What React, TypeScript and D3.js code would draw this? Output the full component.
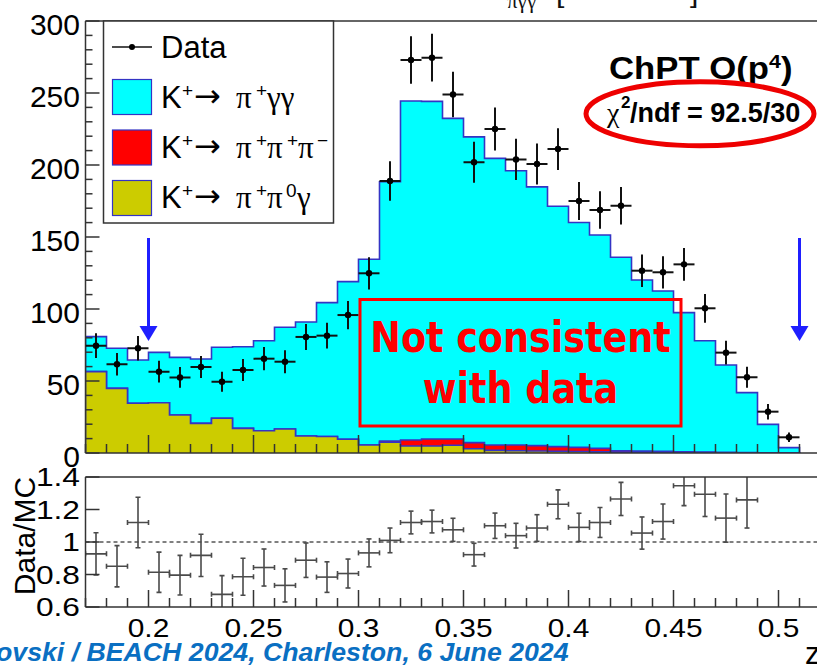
import React from 'react';
import * as d3 from 'd3';

// Bin lower edges in z (bin width 0.01)
const binLow = [0.17, 0.18, 0.19, 0.2, 0.21, 0.22, 0.23, 0.24, 0.25, 0.26, 0.27, 0.28, 0.29, 0.3, 0.31, 0.32, 0.33, 0.34, 0.35, 0.36, 0.37, 0.38, 0.39, 0.4, 0.41, 0.42, 0.43, 0.44, 0.45, 0.46, 0.47, 0.48, 0.49, 0.5];
const BIN_WIDTH = 0.01;

// MC components (events per bin)
const kPiGammaGamma = [24.3, 27.8, 30.1, 35.0, 40.0, 44.7, 49.3, 56.7, 62.5, 70.6, 79.2, 92.9, 109.4, 128.9, 180.1, 235.4, 234.5, 222.7, 212.3, 199.0, 190.4, 179.7, 167.0, 156.2, 148.2, 134.3, 118.8, 111.4, 96.7, 77.4, 60.7, 41.6, 19.8, 3.6];
const kPi3 = [0, 0, 0, 0, 0, 0, 0, 0, 0, 0, 0, 0, 0, 0, 0.8, 4.1, 4.8, 4.3, 4.2, 3.8, 4.0, 3.7, 3.2, 2.9, 2.4, 1.0, 0.8, 0.7, 0.5, 0.3, 0.2, 0.1, 0, 0];
const kPiPi0Gamma = [56.5, 44.9, 34.5, 34.9, 26.4, 20.6, 24.1, 17.1, 15.5, 16.7, 11.8, 11.5, 9.6, 5.6, 7.5, 4.9, 4.9, 5.4, 3.0, 1.8, 1.6, 1.4, 1.2, 1.0, 0.8, 0.6, 0.5, 0.4, 0.3, 0.3, 0.2, 0.2, 0.1, 0.1];

// Data
const dataCounts = [74.5, 61.6, 72.7, 56.5, 52.5, 59.7, 49.5, 57.6, 65.5, 63.4, 80.6, 81.5, 95.8, 124.8, 188.9, 272.9, 274.5, 249.0, 201.9, 225.0, 203.9, 200.7, 211.1, 175.0, 168.8, 171.7, 126.6, 125.5, 131.0, 100.5, 69.7, 52.6, 28.7, 10.9];
const dataErrors = [8.6, 7.8, 8.5, 7.5, 7.2, 7.7, 7.0, 7.6, 8.1, 8.0, 9.0, 9.0, 9.8, 11.2, 13.7, 16.5, 16.6, 15.8, 14.2, 15.0, 14.3, 14.2, 14.5, 13.2, 13.0, 13.1, 11.3, 11.2, 11.4, 10.0, 8.3, 7.3, 5.4, 3.3];

// Data/MC ratio (null = outside the displayed range)
const ratioValues = [0.927, 0.851, 1.12, 0.814, 0.796, 0.918, 0.678, 0.786, 0.843, 0.733, 0.888, 0.784, 0.806, 0.933, 1.01, 1.12, 1.126, 1.075, 0.922, 1.1, 1.039, 1.086, 1.232, 1.09, 1.12, 1.265, 1.055, 1.126, 1.346, 1.294, 1.147, 1.259, null, null];
const ratioErrors = [0.13, 0.127, 0.155, 0.124, 0.122, 0.13, 0.115, 0.114, 0.114, 0.102, 0.106, 0.094, 0.089, 0.086, 0.076, 0.07, 0.07, 0.071, 0.07, 0.078, 0.076, 0.082, 0.089, 0.087, 0.092, 0.102, 0.099, 0.108, 0.122, 0.137, 0.148, 0.173, null, null];

// Axis ticks
const xMajorTicks = [0.2, 0.25, 0.3, 0.35, 0.4, 0.45, 0.5];
const xTickLabels = ['0.2', '0.25', '0.3', '0.35', '0.4', '0.45', '0.5'];
const yTopTicks = [0, 50, 100, 150, 200, 250, 300];
const yTopLabels = ['0', '50', '100', '150', '200', '250', '300'];
const yRatioTicks = [0.6, 0.8, 1, 1.2, 1.4];
const yRatioLabels = ['0.6', '0.8', '1', '1.2', '1.4'];

// Selection cut positions in z
const cutPositions = [0.2, 0.51];

const SANS = "'Liberation Sans', Arial, Helvetica, sans-serif";
const SERIF = "'Liberation Serif', 'Times New Roman', serif";
const DEJAVU = "'DejaVu Sans', Verdana, sans-serif";

const AXIS = '#333';
const HIST_LINE = '#3434c4';
const CYAN = '#00ffff';
const RED = '#ff0000';
const OLIVE = '#cccc00';
const ARROW_BLUE = '#1f1fff';

export default function App() {
  const W = 817;
  const H = 671;
  const left = 85.5;
  const topY0 = 453;
  const topY1 = 21;
  const ratY0 = 607;
  const ratY1 = 477;

  const x = d3.scaleLinear().domain([0.17, 0.53]).range([left, left + 756]);
  const yTop = d3.scaleLinear().domain([0, 300]).range([topY0, topY1]);
  const yRatio = d3.scaleLinear().domain([0.6, 1.4]).range([ratY0, ratY1]);

  const table = binLow.map((lo, i) => ({ lo, pi0g: kPiPi0Gamma[i], pi3: kPi3[i], gg: kPiGammaGamma[i] }));
  const stacked = d3.stack<any>().keys(['pi0g', 'pi3', 'gg'])(table);
  const cumTops = (k: number) => stacked[k].map((d) => d[1]);

  const histPath = (tops: number[], close: boolean) => {
    const pts: [number, number][] = [[x(binLow[0]), yTop(0)]];
    tops.forEach((v, i) => {
      pts.push([x(binLow[i]), yTop(v)], [x(binLow[i] + BIN_WIDTH), yTop(v)]);
    });
    pts.push([x(binLow[binLow.length - 1] + BIN_WIDTH), yTop(0)]);
    const p = d3.line()(pts) || '';
    return close ? p + 'Z' : p;
  };

  // Drawn back to front: total, then partial sums
  const layers = [
    { tops: cumTops(2), fill: CYAN },
    { tops: cumTops(1), fill: RED },
    { tops: cumTops(0), fill: OLIVE },
  ];

  const minorX = d3.range(17, 54).map((v) => v / 100);
  const minorYTop = d3.range(0, 301, 10);

  const supDy = -11;

  return (
    <div style={{ position: 'fixed', left: 0, top: 0, width: W, height: H, background: '#fff' }}>
      <svg width={W} height={H} style={{ display: 'block' }} fontFamily={SANS}>
        <defs>
          <clipPath id="topClip">
            <rect x={left} y={topY1} width={W - left} height={topY0 - topY1} />
          </clipPath>
          <clipPath id="ratioClip">
            <rect x={left} y={ratY1} width={W - left} height={ratY0 - ratY1} />
          </clipPath>
        </defs>

        {/* title row of the panel above, cut by the page edge */}
        <g fill="#111">
          <text x={482} y={-2} fontSize={30}>m</text>
          <text x={507} y={8} fontSize={21} fontFamily={SERIF}>πγγ</text>
          <text x={556} y={1.5} fontSize={30}>[</text>
          <text x={627} y={-1} fontSize={30} textAnchor="middle">MeV/c²</text>
          <text x={690} y={1.5} fontSize={30}>]</text>
        </g>

        {/* stacked MC histograms */}
        <g clipPath="url(#topClip)">
          {layers.map((l, i) => (
            <g key={i}>
              <path d={histPath(l.tops, true)} fill={l.fill} stroke="none" />
              <path d={histPath(l.tops, false)} fill="none" stroke={HIST_LINE} strokeWidth={1.6} />
            </g>
          ))}
        </g>

        {/* top panel frame and axes */}
        <g stroke={AXIS} strokeWidth={1.5} fill="none">
          <line x1={left} x2={W} y1={topY1} y2={topY1} />
          <line x1={left} x2={W} y1={topY0} y2={topY0} />
          <line x1={left} x2={left} y1={topY1} y2={topY0} />
          {minorX.map((v) => {
            const major = xMajorTicks.some((t) => Math.abs(t - v) < 1e-6);
            return <line key={v} x1={x(v)} x2={x(v)} y1={topY0} y2={topY0 - (major ? 18 : 9)} />;
          })}
          {minorYTop.map((v) => (
            <line key={v} x1={left} x2={left + (v % 50 === 0 ? 14 : 7)} y1={yTop(v)} y2={yTop(v)} />
          ))}
        </g>
        <g fontSize={30} fill="#000" textAnchor="end">
          {yTopTicks.map((v, i) => (
            <text key={v} x={80} y={yTop(v) + 13.5}>{yTopLabels[i]}</text>
          ))}
        </g>

        {/* data points */}
        <g stroke="#111" strokeWidth={2} clipPath="url(#topClip)">
          {dataCounts.map((v, i) => {
            const cx = x(binLow[i] + BIN_WIDTH / 2);
            const e = dataErrors[i];
            return (
              <g key={i}>
                <line x1={cx} x2={cx} y1={yTop(v - e)} y2={yTop(v + e)} />
                <line x1={x(binLow[i])} x2={x(binLow[i] + BIN_WIDTH)} y1={yTop(v)} y2={yTop(v)} />
                <circle cx={cx} cy={yTop(v)} r={3.2} fill="#000" stroke="none" />
              </g>
            );
          })}
        </g>

        {/* selection cut arrows */}
        <g fill={ARROW_BLUE} stroke={ARROW_BLUE}>
          {cutPositions.map((c) => {
            const ax = x(c);
            return (
              <g key={c}>
                <line x1={ax} x2={ax} y1={238} y2={328} strokeWidth={3} />
                <path d={`M${ax - 9},326 L${ax + 9},326 L${ax},341 Z`} stroke="none" />
              </g>
            );
          })}
        </g>

        {/* legend */}
        <rect x={103.5} y={21} width={230} height={202} fill="#fff" stroke={AXIS} strokeWidth={1.5} />
        <line x1={112} x2={152} y1={47} y2={47} stroke="#111" strokeWidth={1.5} />
        <circle cx={132} cy={47} r={3} fill="#000" />
        <text x={161} y={58} fontSize={31}>Data</text>
        {[
          { y: 79.5, fill: CYAN },
          { y: 130, fill: RED },
          { y: 180.5, fill: OLIVE },
        ].map((b) => (
          <rect key={b.y} x={112.5} y={b.y} width={39} height={35} fill={b.fill} stroke={HIST_LINE} strokeWidth={1.2} />
        ))}
        <g fontSize={31} fill="#000">
          {[108, 158, 208].map((by) => (
            <g key={by}>
              <text x={161} y={by}>K</text>
              <text x={182} y={by + supDy} fontSize={19}>+</text>
              <text x={194} y={by - 1} fontSize={32} fontFamily={DEJAVU}>→</text>
            </g>
          ))}
          {/* K+ -> pi+ gamma gamma */}
          <text x={236} y={108} fontFamily={SERIF}>π</text>
          <text x={256} y={108 + supDy} fontSize={19}>+</text>
          <text x={267} y={108} fontFamily={SERIF}>γγ</text>
          {/* K+ -> pi+ pi+ pi- */}
          <text x={236} y={158} fontFamily={SERIF}>π</text>
          <text x={256} y={158 + supDy} fontSize={19}>+</text>
          <text x={267} y={158} fontFamily={SERIF}>π</text>
          <text x={287} y={158 + supDy} fontSize={19}>+</text>
          <text x={298} y={158} fontFamily={SERIF}>π</text>
          <text x={317} y={158 + supDy} fontSize={19}>−</text>
          {/* K+ -> pi+ pi0 gamma */}
          <text x={236} y={208} fontFamily={SERIF}>π</text>
          <text x={256} y={208 + supDy} fontSize={19}>+</text>
          <text x={267} y={208} fontFamily={SERIF}>π</text>
          <text x={286} y={208 + supDy} fontSize={19}>0</text>
          <text x={297} y={208} fontFamily={SERIF}>γ</text>
        </g>

        {/* model label and fit quality */}
        <g fill="#000" fontWeight="bold">
          <text transform="translate(609,79) scale(1.12,1)" fontSize={31}>
            ChPT O(p<tspan dy={-11} fontSize={19}>4</tspan><tspan dy={11}>)</tspan>
          </text>
          <text x={607} y={121.5} fontSize={28} fontFamily={SERIF} fontWeight="normal">χ</text>
          <text x={621} y={108} fontSize={17}>2</text>
          <text x={630} y={121.5} fontSize={27}>/ndf = 92.5/30</text>
        </g>
        <ellipse cx={700} cy={113.8} rx={114} ry={32} fill="none" stroke="#ee0000" strokeWidth={5} />

        {/* annotation box */}
        <rect x={360} y={299.5} width={321} height={126.5} fill="none" stroke="#ff0000" strokeWidth={3} />
        <g fill="#ff0000" fontFamily={DEJAVU} fontWeight="bold" fontSize={42} textAnchor="middle">
          <text transform="translate(520.5,352) scale(0.87,1)">Not consistent</text>
          <text transform="translate(520.5,403) scale(0.87,1)">with data</text>
        </g>

        {/* ratio panel */}
        <line x1={left} x2={W} y1={yRatio(1)} y2={yRatio(1)} stroke="#000" strokeWidth={1} strokeDasharray="4,3" />
        <g stroke="#4a4a4a" strokeWidth={1.6} clipPath="url(#ratioClip)">
          {ratioValues.map((v, i) => {
            if (v === null) return null;
            const e = ratioErrors[i] as number;
            const cx = x(binLow[i] + BIN_WIDTH / 2);
            const cy = yRatio(v);
            const x0 = x(binLow[i]);
            const x1 = x(binLow[i] + BIN_WIDTH);
            const yLo = yRatio(v - e);
            const yHi = yRatio(v + e);
            return (
              <g key={i}>
                <line x1={cx} x2={cx} y1={yLo} y2={yHi} />
                <line x1={cx - 2.5} x2={cx + 2.5} y1={yLo} y2={yLo} />
                <line x1={cx - 2.5} x2={cx + 2.5} y1={yHi} y2={yHi} />
                <line x1={x0} x2={x1} y1={cy} y2={cy} />
                <line x1={x0} x2={x0} y1={cy - 2.5} y2={cy + 2.5} />
                <line x1={x1} x2={x1} y1={cy - 2.5} y2={cy + 2.5} />
              </g>
            );
          })}
        </g>
        <g stroke={AXIS} strokeWidth={1.5} fill="none">
          <line x1={left} x2={W} y1={ratY1} y2={ratY1} />
          <line x1={left} x2={W} y1={ratY0} y2={ratY0} />
          <line x1={left} x2={left} y1={ratY1} y2={ratY0} />
          {minorX.map((v) => {
            const major = xMajorTicks.some((t) => Math.abs(t - v) < 1e-6);
            return <line key={v} x1={x(v)} x2={x(v)} y1={ratY0} y2={ratY0 - (major ? 17 : 9)} />;
          })}
          {yRatioTicks.map((v) => (
            <line key={v} x1={left} x2={left + 14} y1={yRatio(v)} y2={yRatio(v)} />
          ))}
        </g>
        <g fontSize={26} fill="#000">
          {yRatioTicks.map((v, i) => (
            <text key={v} transform={`translate(80,${yRatio(v) + 9}) scale(1.22,1)`} textAnchor="end">
              {yRatioLabels[i]}
            </text>
          ))}
          {xMajorTicks.map((v, i) => (
            <text key={v} transform={`translate(${x(v)},637) scale(1.15,1)`} textAnchor="middle">
              {xTickLabels[i]}
            </text>
          ))}
        </g>
        <text transform="translate(35,536) rotate(-90)" textAnchor="middle" fontSize={30} fill="#000">
          Data/MC
        </text>
        <text x={805} y={664} fontSize={31} fill="#000">z</text>

        {/* footer */}
        <text x={-4} y={661} fontSize={26.7} fontWeight="bold" fontStyle="italic" fill="#0a6fc2">
          ovski / BEACH 2024, Charleston, 6 June 2024
        </text>
      </svg>
    </div>
  );
}
